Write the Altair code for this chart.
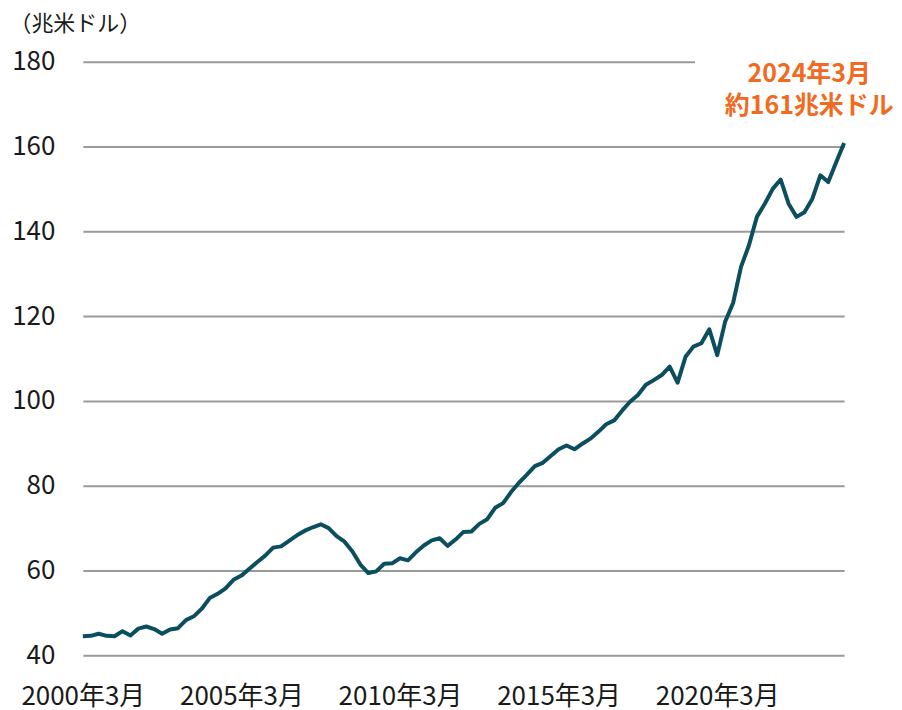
import altair as alt
import pandas as pd

values = [
    44.5, 44.6, 45.1, 44.6, 44.5, 45.7, 44.7, 46.3, 46.8, 46.2,
    45.1, 46.1, 46.4, 48.3, 49.2, 51.0, 53.5, 54.5, 55.8, 57.8,
    58.8, 60.4, 62.0, 63.5, 65.4, 65.7, 67.0, 68.3, 69.4, 70.2,
    70.9, 70.0, 68.1, 66.8, 64.5, 61.4, 59.4, 59.8, 61.6, 61.7,
    62.9, 62.4, 64.3, 65.9, 67.1, 67.6, 65.8, 67.3, 69.1, 69.2,
    71.0, 72.1, 74.8, 75.9, 78.5, 80.7, 82.6, 84.6, 85.4, 87.0,
    88.6, 89.5, 88.6, 89.9, 91.1, 92.7, 94.5, 95.4, 97.7, 99.8,
    101.4, 103.8, 104.9, 106.1, 108.1, 104.3, 110.4, 112.8, 113.6, 116.9,
    110.8, 118.7, 123.1, 131.6, 136.7, 143.4, 146.5, 150.0, 152.2, 146.5,
    143.4, 144.5, 147.7, 153.2, 151.6, 156.3, 160.8,
]
quarter_index = list(range(len(values)))
tick_positions = [0, 20, 40, 60, 80]
y_ticks = [40, 60, 80, 100, 120, 140, 160, 180]
annotation_texts = ["2024年3月", "約161兆米ドル"]
annotation_y = [177.2, 169.6]

df = pd.DataFrame({"q": quarter_index, "v": values})

FONT = "Noto Sans CJK JP"
LINE_COLOR = "#0B4F5F"
ORANGE = "#F26A21"

x_scale = alt.Scale(domain=[0, 96], nice=False, zero=False)
y_scale = alt.Scale(domain=[40, 180], nice=False, zero=False)

line = alt.Chart(df).mark_line(color=LINE_COLOR, strokeWidth=4, strokeJoin="round").encode(
    x=alt.X("q:Q", scale=x_scale, axis=alt.Axis(
        values=tick_positions, grid=False, domain=False, ticks=False,
        labelExpr="(2000 + datum.value / 4) + '年3月'",
        labelFont=FONT, labelFontSize=26, labelColor="#1a1a1a",
        labelPadding=28, labelOverlap=False, labelBound=False,
        labelFlush=False, title=None,
    )),
    y=alt.Y("v:Q", scale=y_scale, axis=alt.Axis(
        values=y_ticks, grid=True, gridColor="#9a9a9a", gridWidth=2,
        domain=False, ticks=False, labelFont=FONT, labelFontSize=26,
        labelColor="#1a1a1a", labelPadding=28,
        title="（兆米ドル）", titleAngle=0, titleAlign="left",
        titleBaseline="middle", titleX=-74, titleY=-38,
        titleFont=FONT, titleFontSize=22, titleFontWeight="normal",
        titleColor="#1a1a1a",
    )),
)

# white backing behind the annotation (hides the top gridline there)
mask_df = pd.DataFrame({"x1": [77.2], "x2": [100], "y1": [166], "y2": [184]})
mask = alt.Chart(mask_df).mark_rect(color="white").encode(
    x=alt.X("x1:Q", scale=x_scale), x2="x2:Q",
    y=alt.Y("y1:Q", scale=y_scale), y2="y2:Q",
)

ann_df = pd.DataFrame({"x": [91.6, 91.6], "y": annotation_y, "t": annotation_texts})
ann = alt.Chart(ann_df).mark_text(
    font=FONT, fontSize=25, fontWeight="bold", color=ORANGE,
    align="center", baseline="middle",
).encode(
    x=alt.X("x:Q", scale=x_scale), y=alt.Y("y:Q", scale=y_scale), text="t:N",
)

chart = alt.layer(mask, line, ann).properties(
    width=763, height=595,
    autosize=alt.AutoSizeParams(type="none"),
    padding={"left": 75, "top": 53, "right": 50, "bottom": 52},
).configure_view(stroke=None)

chart.save("out.html", embed_options={"renderer": "svg", "actions": False})
